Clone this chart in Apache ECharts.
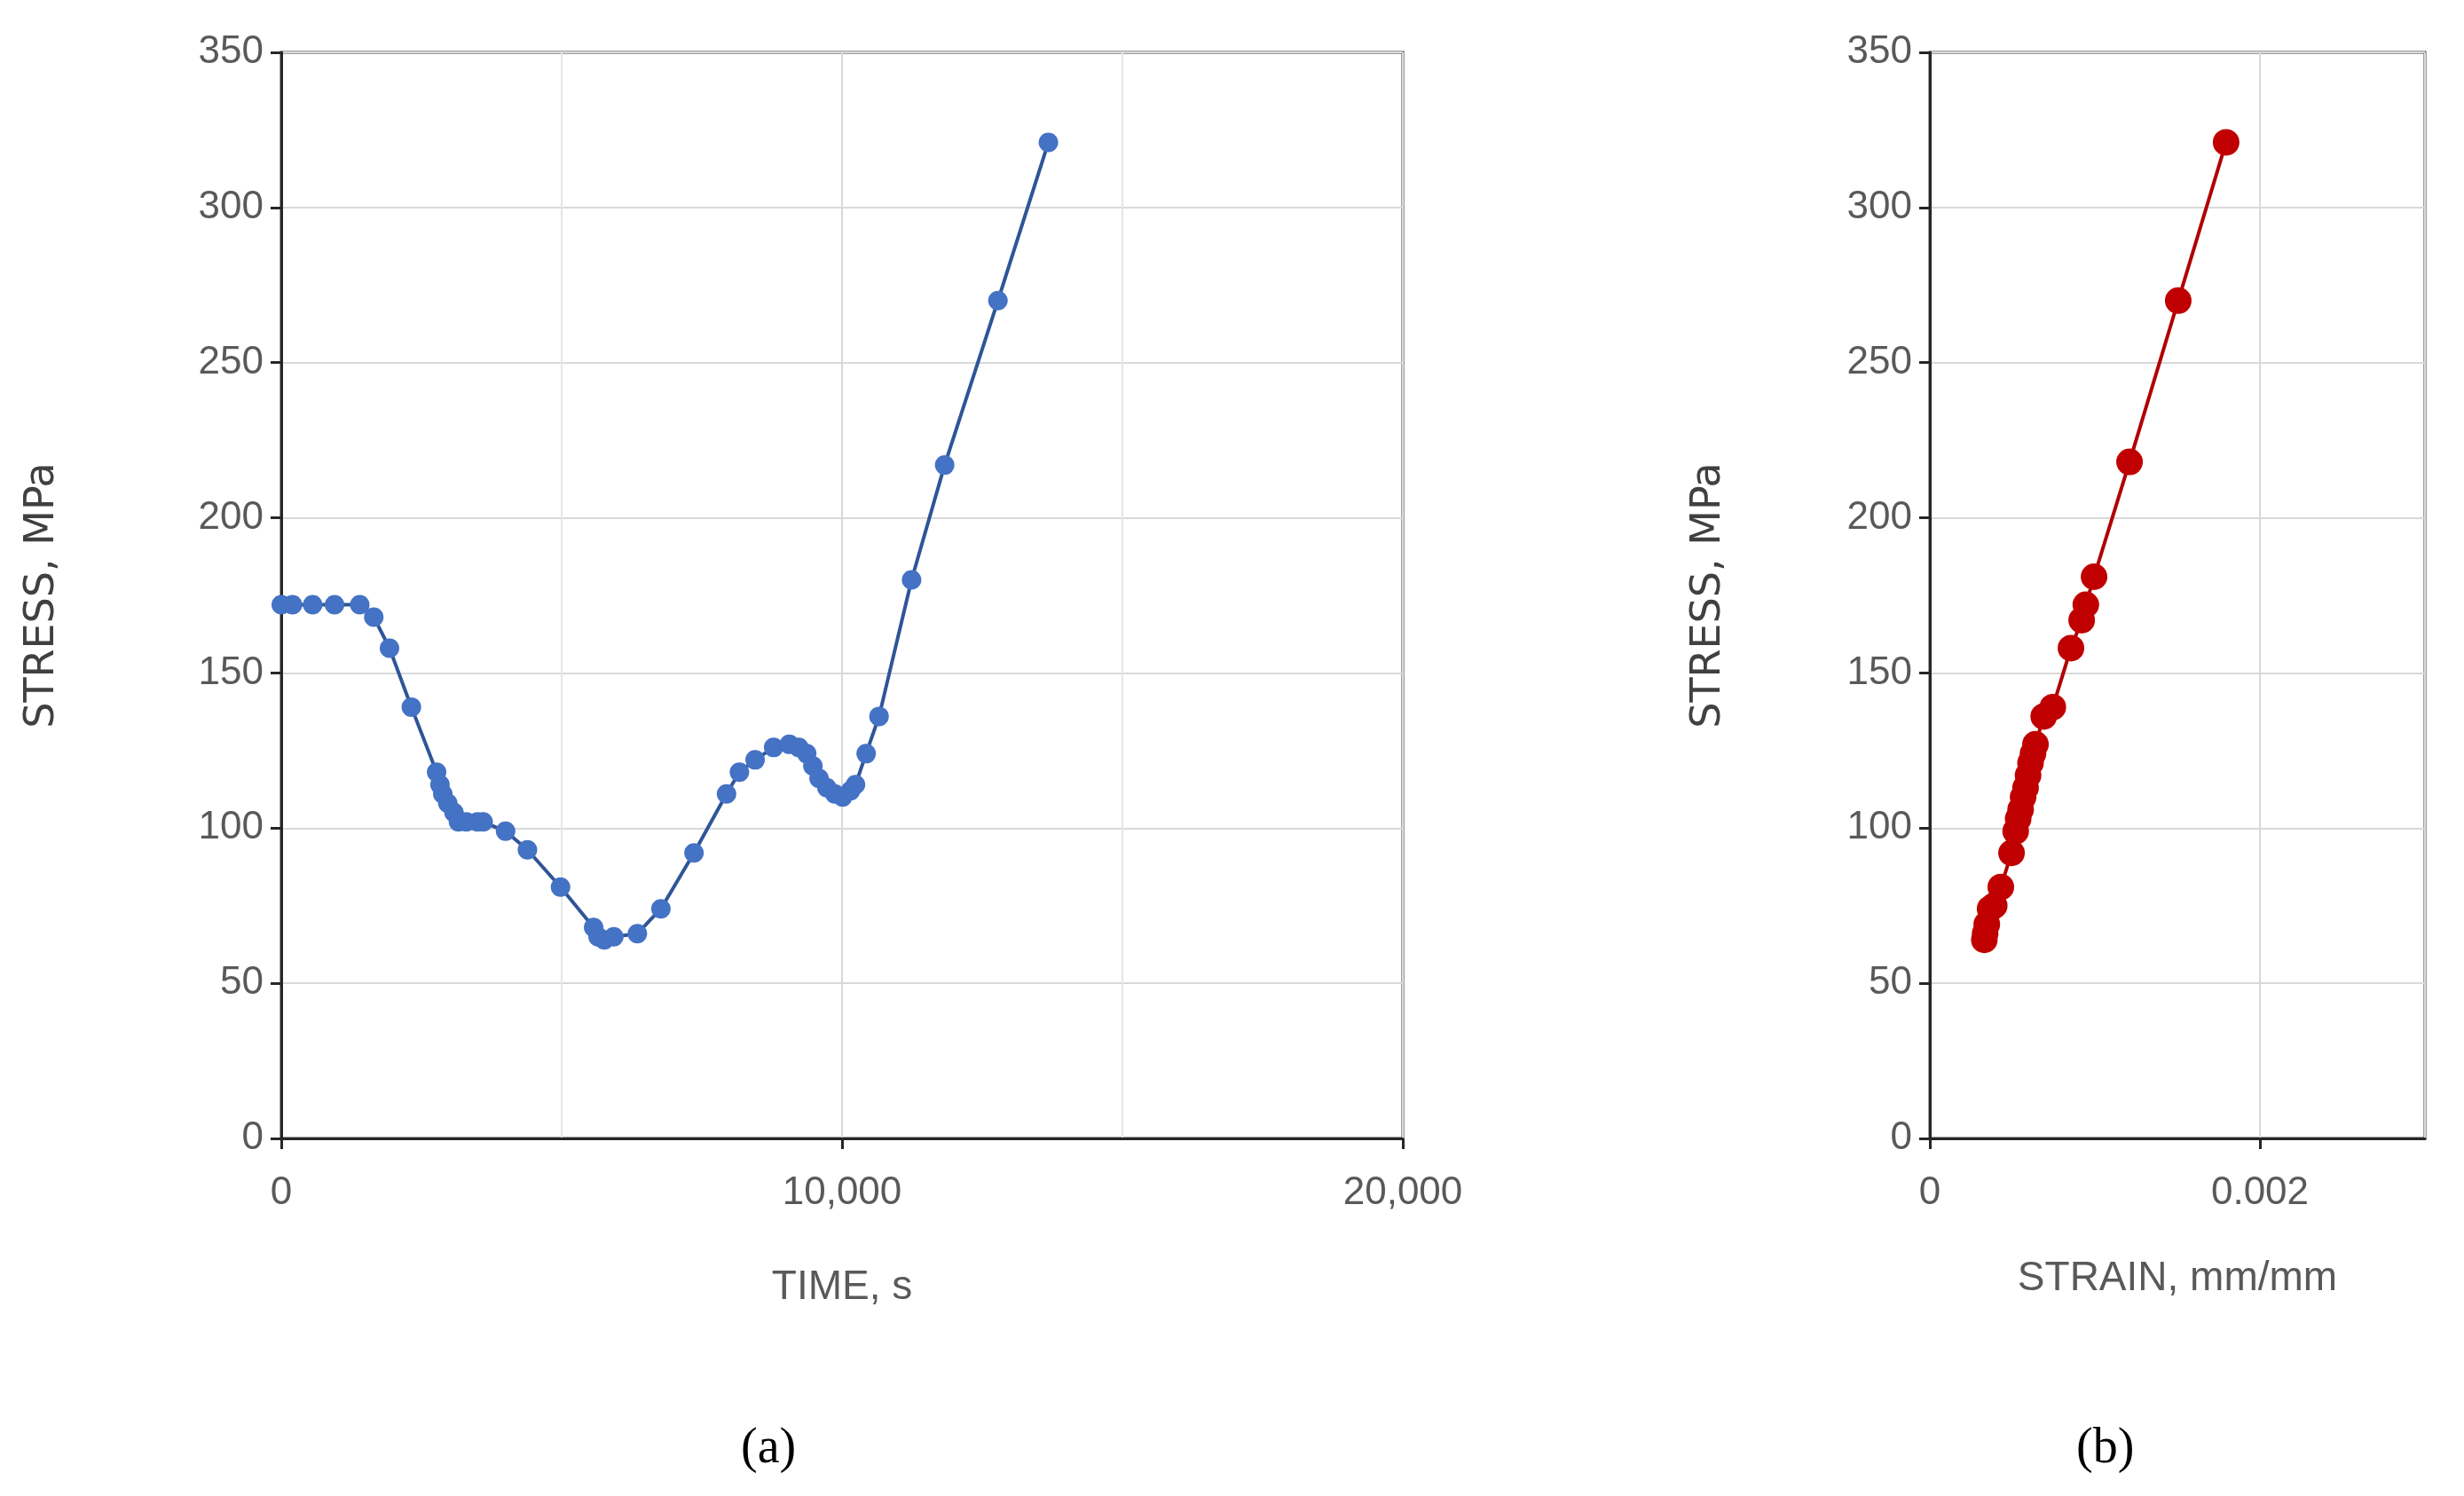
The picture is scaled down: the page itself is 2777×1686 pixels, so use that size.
<!DOCTYPE html>
<html>
<head>
<meta charset="utf-8">
<script src="https://cdn.jsdelivr.net/npm/echarts@6/dist/echarts.min.js"></script>
<style>
  html, body { margin: 0; padding: 0; background: #fff; }
  #chart { width: 2777px; height: 1686px; }
</style>
</head>
<body>
<div id="chart"></div>
<script>
// (a) stress vs time
var timeS = [0, 200, 560, 950, 1400, 1650, 1930, 2320, 2770, 2830, 2880, 2970, 3080, 3160, 3300, 3500, 3600,
  4000, 4390, 4980, 5570, 5650, 5760, 5930, 6350, 6770, 7360, 7940, 8170, 8450, 8780, 9060, 9230, 9370,
  9480, 9590, 9730, 9870, 10010, 10150, 10240, 10430, 10660, 11240, 11830, 12780, 13680];
var stressA = [172, 172, 172, 172, 172, 168, 158, 139, 118, 114, 111, 108, 105, 102, 102, 102, 102,
  99, 93, 81, 68, 65, 64, 65, 66, 74, 92, 111, 118, 122, 126, 127, 126, 124,
  120, 116, 113, 111, 110, 112, 114, 124, 136, 180, 217, 270, 321];

// (b) stress vs strain
var strain = [0.000330, 0.000335, 0.000345, 0.000365, 0.000390, 0.000430, 0.000495, 0.000520, 0.000535,
  0.000550, 0.000565, 0.000580, 0.000595, 0.000610, 0.000625, 0.000640, 0.000690, 0.000745, 0.000855,
  0.000920, 0.000945, 0.000995, 0.001210, 0.001505, 0.001795];
var stressB = [64, 66, 69, 74, 75, 81, 92, 99, 103, 106, 110, 113, 117, 121, 124, 127, 136, 139, 158,
  167, 172, 181, 218, 270, 321];

var yTicks = { min: 0, max: 350, interval: 50 };

function pairs(xs, ys) {
  return xs.map(function (x, i) { return [x, ys[i]]; });
}

var axisLineStyle = { color: '#262626', width: 3 };
var labelStyle = { color: '#595959', fontSize: 44, fontFamily: 'Liberation Sans' };
var nameStyle = { color: '#595959', fontSize: 46, fontFamily: 'Liberation Sans' };
var splitStyle = { lineStyle: { color: '#d9d9d9', width: 2 } };

function yAxis(idx, gap) {
  return {
    type: 'value', gridIndex: idx, min: yTicks.min, max: yTicks.max, interval: yTicks.interval,
    name: 'STRESS, MPa', nameLocation: 'middle', nameGap: gap, nameRotate: 90,
    nameTextStyle: { color: '#404040', fontSize: 46, fontFamily: 'DejaVu Sans' },
    axisLine: { show: true, lineStyle: axisLineStyle },
    axisTick: { show: true, length: 12, lineStyle: axisLineStyle },
    axisLabel: Object.assign({ margin: 20 }, labelStyle),
    splitLine: splitStyle
  };
}

var chart = echarts.init(document.getElementById('chart'));
chart.setOption({
  backgroundColor: '#fff',
  animation: false,
  grid: [
    { left: 317, right: 1196, top: 59, bottom: 403, show: true, borderColor: '#404040', borderWidth: 3 },
    { left: 2175, right: 44, top: 59, bottom: 403, show: true, borderColor: '#404040', borderWidth: 3 }
  ],
  graphic: [
    { type: 'text', left: 835, top: 1605, style: { text: '(a)', fontSize: 56, fontFamily: 'Liberation Serif', fill: '#000' } },
    { type: 'text', left: 2340, top: 1605, style: { text: '(b)', fontSize: 56, fontFamily: 'Liberation Serif', fill: '#000' } }
  ],
  xAxis: [
    {
      type: 'value', gridIndex: 0, min: 0, max: 20000, interval: 10000,
      name: 'TIME, s', nameLocation: 'middle', nameGap: 145, nameTextStyle: nameStyle,
      axisLine: { show: true, onZero: false, lineStyle: axisLineStyle },
      axisTick: { show: true, length: 12, lineStyle: axisLineStyle },
      axisLabel: Object.assign({ margin: 40, formatter: function (v) { return v.toLocaleString('en-US'); } }, labelStyle),
      splitLine: splitStyle,
      minorTick: { show: false, splitNumber: 2 },
      minorSplitLine: { show: true, lineStyle: { color: '#e6e6e6', width: 2 } }
    },
    {
      type: 'value', gridIndex: 1, min: 0, max: 0.003, interval: 0.002,
      name: 'STRAIN, mm/mm', nameLocation: 'middle', nameGap: 135, nameTextStyle: nameStyle,
      axisLine: { show: true, onZero: false, lineStyle: axisLineStyle },
      axisTick: { show: true, length: 12, lineStyle: axisLineStyle },
      axisLabel: Object.assign({ margin: 40, showMaxLabel: false }, labelStyle),
      splitLine: splitStyle
    }
  ],
  yAxis: [yAxis(0, 246), yAxis(1, 226)],
  series: [
    {
      type: 'line', xAxisIndex: 0, yAxisIndex: 0, data: pairs(timeS, stressA),
      symbol: 'circle', symbolSize: 22,
      itemStyle: { color: '#4472c4' },
      lineStyle: { color: '#2f5597', width: 4 }
    },
    {
      type: 'line', xAxisIndex: 1, yAxisIndex: 1, data: pairs(strain, stressB),
      symbol: 'circle', symbolSize: 30,
      itemStyle: { color: '#c00000' },
      lineStyle: { color: '#b00000', width: 4 }
    }
  ]
});
</script>
</body>
</html>
